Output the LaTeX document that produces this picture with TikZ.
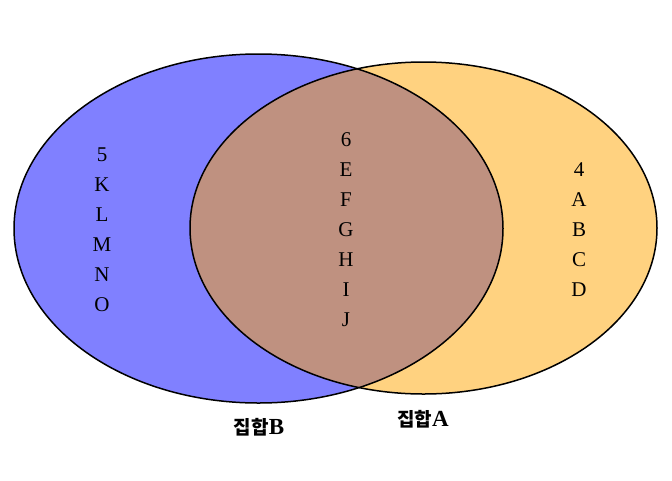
\documentclass[tikz,border=0pt]{standalone}
\usepackage{fontspec}
\setmainfont{Liberation Serif}
\newfontfamily\krfont{Noto Sans CJK KR Bold}
\begin{document}
\begin{tikzpicture}[
  x=1pt, y=-1pt,
  setB/.style={fill={rgb,255:red,128;green,128;blue,255}},
  setA/.style={fill={rgb,255:red,255;green,210;blue,128}},
  both/.style={fill={rgb,255:red,191;green,145;blue,128}},
  members/.style={align=center, font=\fontsize{21}{30}\selectfont},
  setlabel/.style={font=\fontsize{23}{26}\selectfont\bfseries}
]
\useasboundingbox (0,0) rectangle (672,480);
% the two sets
\fill[setB] (258.5,228.5) ellipse [x radius=244.5, y radius=174.5];
\fill[setA] (423.5,228) ellipse [x radius=233.5, y radius=166];
\begin{scope}
  \clip (258.5,228.5) ellipse [x radius=244.5, y radius=174.5];
  \fill[both] (423.5,228) ellipse [x radius=233.5, y radius=166];
\end{scope}
\draw[line width=1.5pt] (258.5,228.5) ellipse [x radius=244.5, y radius=174.5];
\draw[line width=1.5pt] (423.5,228) ellipse [x radius=233.5, y radius=166];

% members
\node[members] (onlyB) at (102,230) {5\\K\\L\\M\\N\\O};
\node[members] (AandB) at (346,230) {6\\E\\F\\G\\H\\I\\J};
\node[members] (onlyA) at (579,230) {4\\A\\B\\C\\D};

% labels
\node[setlabel] (labelB) at (259,427) {{\krfont\fontsize{19}{26}\selectfont 집합}B};
\node[setlabel] (labelA) at (423,419) {{\krfont\fontsize{19}{26}\selectfont 집합}A};
\end{tikzpicture}
\end{document}
